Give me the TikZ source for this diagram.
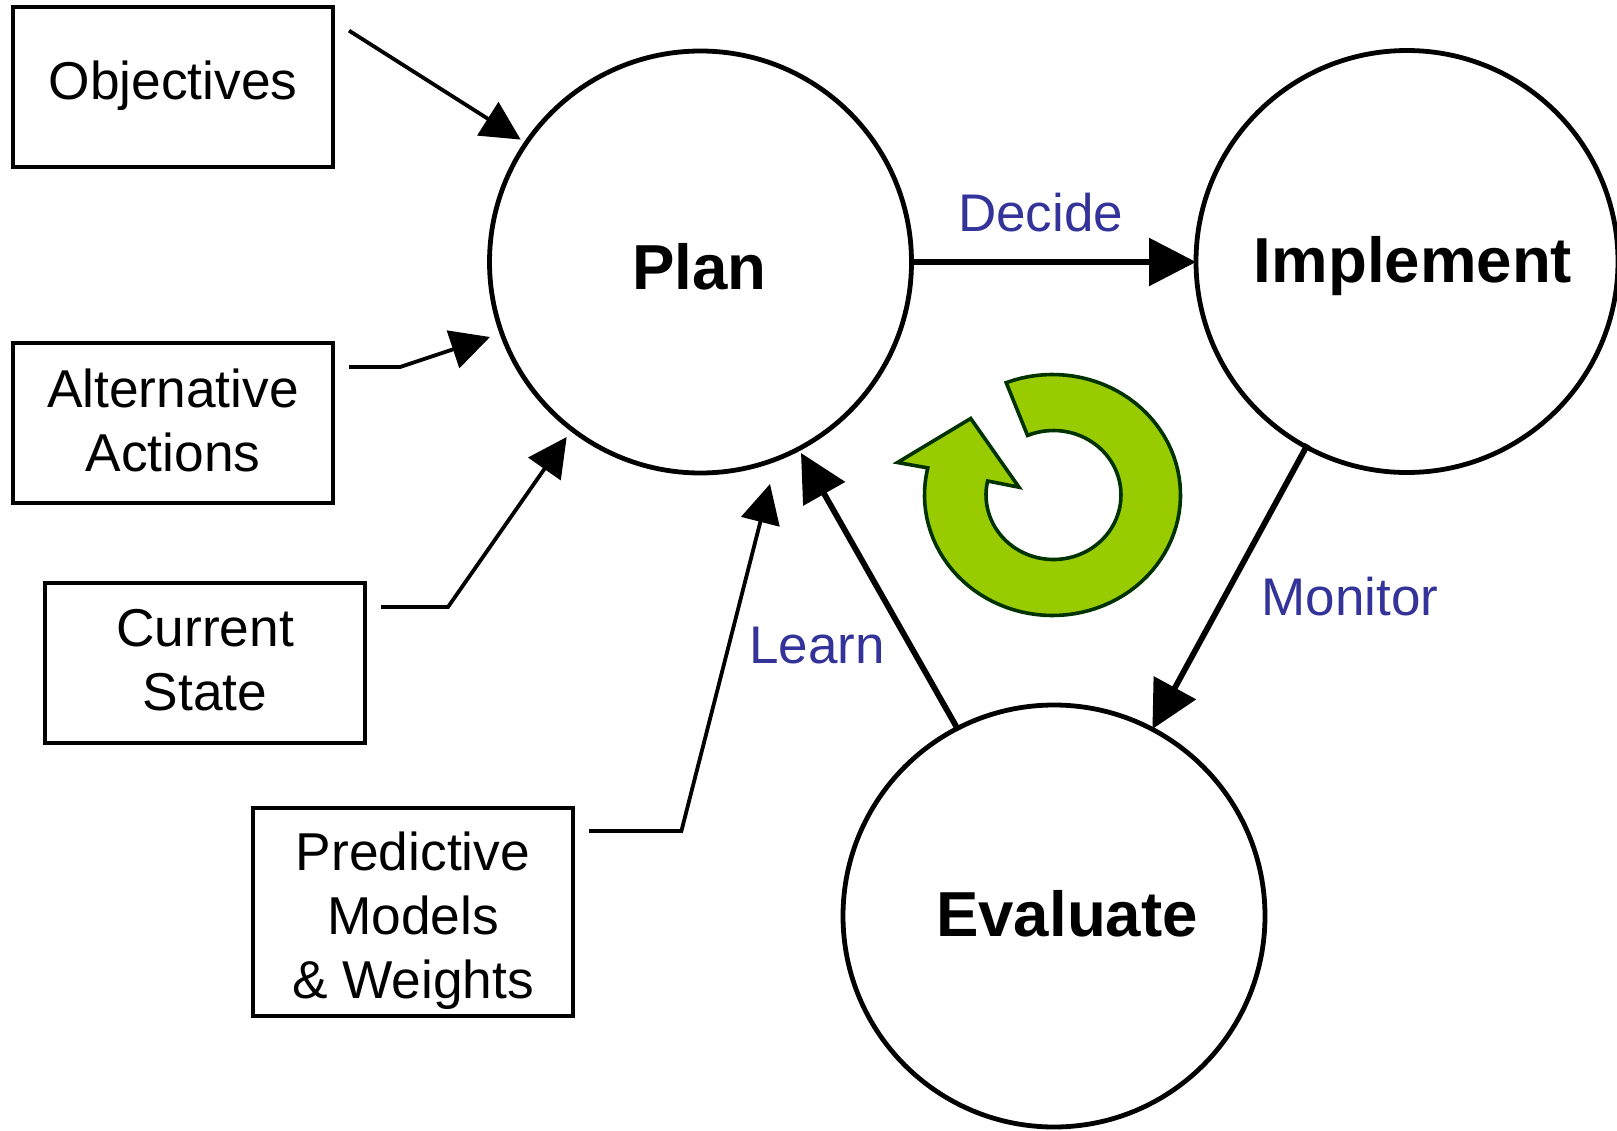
\documentclass[tikz,border=0pt]{standalone}
\usepackage{fontspec}
\setmainfont{Liberation Sans}
\usetikzlibrary{arrows.meta}
\definecolor{labelblue}{HTML}{333399}
\definecolor{ringgreen}{HTML}{99CC00}
\definecolor{ringedge}{HTML}{003300}
\tikzset{
  inbox/.style={draw=black,line width=4.2pt,fill=white,minimum width=320pt,minimum height=159.5pt,inner sep=0pt,outer sep=0pt,align=center,font=\fontsize{53.3}{64}\selectfont},
  stage/.style={circle,draw=black,line width=4.8pt,fill=white,minimum size=422pt,inner sep=0pt,outer sep=0pt,font=\fontsize{63.6}{70}\selectfont\bfseries},
  verb/.style={anchor=base,text=labelblue,inner sep=0pt,font=\fontsize{53}{60}\selectfont},
  thinarrow/.style={draw=black,line width=3.8pt,-{Triangle[length=39pt,width=39pt]}},
  thickarrow/.style={draw=black,line width=5.8pt,-{Triangle[length=47pt,width=47pt]}},
}
\begin{document}
\begin{tikzpicture}[x=1pt,y=-1pt]
\useasboundingbox (0,0) rectangle (1617,1130);
% stages
\node[stage] (plan) at (700.5,262) {\rule{0pt}{55pt}\kern-2pt Plan};
\node[stage] (implement) at (1407,261.5) {\rule{0pt}{55pt}\kern12pt Implement};
\node[stage] (evaluate) at (1054,916) {\rule[-5pt]{0pt}{0pt}\kern26pt Evaluate};
% inputs
\node[inbox] (objectives) at (173,87) {Objectives\rule[-13pt]{0pt}{0pt}};
\node[inbox] (alternative) at (173,423) {Alternative\\Actions\rule[-5pt]{0pt}{0pt}};
\node[inbox] (current) at (205,663) {Current\\State\rule[-6pt]{0pt}{0pt}};
\node[inbox,minimum height=208.5pt] (models) at (413,912) {\rule{0pt}{57pt}Predictive\\Models\\\& Weights};
% labels
\node[verb] (decide) at (1040.5,231) {Decide};
\node[verb] (monitor) at (1350,615) {Monitor};
\node[verb] (learn) at (817,663) {Learn};
% free connector ends
\coordinate (objout) at (349,30.6);
\coordinate (objin) at (520.7,139.6);
\coordinate (altout) at (349,367);
\coordinate (altbend) at (400,367);
\coordinate (altin) at (490,337);
\coordinate (curout) at (381,607);
\coordinate (curbend) at (448,607);
\coordinate (curin) at (566.7,437);
\coordinate (modout) at (589,831);
\coordinate (modbend) at (681.4,831);
\coordinate (modin) at (770,484);
\coordinate (learnin) at (801,453);
\coordinate (monout) at (1307.6,444.5);
\coordinate (monin) at (1152.4,729);
\coordinate (learnout) at (956.4,726.7);
% connectors
\draw[thinarrow] (objout) -- (objin);
\draw[thinarrow] (altout) -- (altbend) -- (altin);
\draw[thinarrow] (curout) -- (curbend) -- (curin);
\draw[thinarrow] (modout) -- (modbend) -- (modin);
\draw[thickarrow] (plan.east) -- (implement.west |- plan.east);
\draw[thickarrow] (monout) -- (monin);
\draw[thickarrow] (learnout) -- (learnin);
% cycle arrow
\draw[ringedge,line width=3.6pt,fill=ringgreen,miter limit=10]
  plot[domain=-111.2:193,samples=90] ({1052.5+128*cos(\x)},{495+120.5*sin(\x)})
  -- (897.5,462.5) -- (970.7,418.5) -- (1019,487.2) -- (986,480.7)
  -- plot[domain=192.5:-112.6,samples=80] ({1053.5+67.5*cos(\x)},{495+64.5*sin(\x)})
  -- cycle;
\end{tikzpicture}
\end{document}
